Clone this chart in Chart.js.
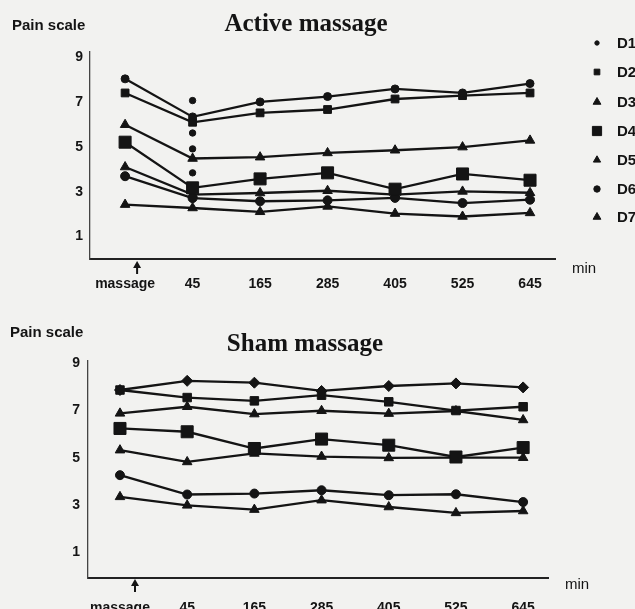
<!DOCTYPE html>
<html><head><meta charset="utf-8">
<script src="https://cdn.jsdelivr.net/npm/chart.js@4/dist/chart.umd.min.js"></script>
<style>
html,body{margin:0;padding:0;background:#f2f2f0;}
#wrap{position:relative;width:635px;height:609px;overflow:hidden;background:#f2f2f0;}
canvas{position:absolute;left:0;}
</style></head><body>
<div id="wrap">
<canvas id="topChart" width="635" height="300" style="top:0px"></canvas>
<canvas id="botChart" width="635" height="309" style="top:300px"></canvas>
</div>
<script>
// ---- data ----
const timeLabels = ['massage', '45', '165', '285', '405', '525', '645'];
const yTickValues = [1, 3, 5, 7, 9];
const seriesNames = ['D1', 'D2', 'D3', 'D4', 'D5', 'D6', 'D7'];

const activeD1 = [8.05, 6.35, 7.02, 7.26, 7.60, 7.42, 7.84];
const activeD2 = [7.42, 6.11, 6.53, 6.68, 7.15, 7.30, 7.42];
const activeD3 = [6.00, 4.49, 4.55, 4.74, 4.86, 5.00, 5.30];
const activeD4 = [5.22, 3.18, 3.58, 3.85, 3.12, 3.80, 3.52];
const activeD5 = [4.11, 2.88, 2.95, 3.05, 2.88, 3.02, 2.96];
const activeD6 = [3.70, 2.72, 2.58, 2.62, 2.73, 2.50, 2.65];
const activeD7 = [2.43, 2.28, 2.11, 2.35, 2.03, 1.90, 2.06];
const activeExtraDots45 = [7.08, 5.63, 4.92, 3.85];

const shamD1 = [7.87, 8.26, 8.18, 7.83, 8.04, 8.15, 7.98];
const shamD2 = [7.87, 7.55, 7.41, 7.65, 7.37, 7.00, 7.16];
const shamD3 = [6.88, 7.16, 6.85, 6.99, 6.87, 6.98, 6.60];
const shamD4 = [6.24, 6.10, 5.39, 5.79, 5.53, 5.03, 5.43];
const shamD5 = [5.32, 4.82, 5.18, 5.05, 4.99, 5.00, 5.00];
const shamD6 = [4.26, 3.44, 3.48, 3.62, 3.41, 3.45, 3.12];
const shamD7 = [3.34, 2.98, 2.80, 3.20, 2.91, 2.66, 2.74];

const activeSeries = [activeD1, activeD2, activeD3, activeD4, activeD5, activeD6, activeD7];
const shamSeries = [shamD1, shamD2, shamD3, shamD4, shamD5, shamD6, shamD7];

// ---- styles ----
const INK = '#141414';
const topMarkers = [
  {ps: 'circle', r: 4, lr: 2.2},
  {ps: 'rect', r: 5.5, lr: 4},
  {ps: 'triangle', r: 5.5, lr: 4.5},
  {ps: 'rect', r: 8.5, lr: 6.5},
  {ps: 'triangle', r: 5.5, lr: 4.2},
  {ps: 'circle', r: 4.5, lr: 3.2},
  {ps: 'triangle', r: 5.5, lr: 4.5}
];
const botMarkers = [
  {ps: 'rectRot', r: 5.5},
  {ps: 'rect', r: 6},
  {ps: 'triangle', r: 5.5},
  {ps: 'rect', r: 8.5},
  {ps: 'triangle', r: 5.5},
  {ps: 'circle', r: 4.5},
  {ps: 'triangle', r: 5.5}
];

Chart.defaults.font.family = '"Liberation Sans", Arial, sans-serif';
Chart.defaults.color = INK;

const deco = {
  id: 'deco',
  afterDraw(chart, args, o) {
    const ctx = chart.ctx;
    ctx.save();
    ctx.fillStyle = INK;
    ctx.textBaseline = 'alphabetic';
    ctx.font = 'bold 15px "Liberation Sans", Arial, sans-serif';
    ctx.textAlign = 'left';
    ctx.fillText('Pain scale', o.painX, o.painY);
    ctx.font = 'bold 25px "Liberation Serif", "Times New Roman", serif';
    ctx.textAlign = 'center';
    ctx.fillText(o.title, o.titleX, o.titleY);
    ctx.font = '15px "Liberation Sans", Arial, sans-serif';
    ctx.textAlign = 'left';
    ctx.fillText('min', o.minX, o.minY);
    // arrow under "massage"
    const ax = chart.scales.x.getPixelForValue(0) + o.arrowDx;
    const y0 = chart.chartArea.bottom + o.arrowDy;
    ctx.strokeStyle = INK; ctx.lineWidth = 2;
    ctx.beginPath(); ctx.moveTo(ax, y0 + 4); ctx.lineTo(ax, y0 + 13); ctx.stroke();
    ctx.beginPath(); ctx.moveTo(ax, y0); ctx.lineTo(ax - 4, y0 + 7); ctx.lineTo(ax + 4, y0 + 7); ctx.closePath(); ctx.fill();
    // legend
    if (o.legend) {
      ctx.font = 'bold 15px "Liberation Sans", Arial, sans-serif';
      ctx.textAlign = 'left';
      ctx.textBaseline = 'middle';
      chart.data.datasets.forEach((ds, i) => {
        if (!ds.legendRadius) return;
        const y = o.legendRows[i];
        ctx.fillStyle = INK; ctx.strokeStyle = INK; ctx.lineWidth = 1;
        Chart.helpers.drawPoint(ctx, {pointStyle: ds.pointStyle, radius: ds.legendRadius, rotation: 0, borderWidth: 1}, o.legendX, y);
        ctx.fillText(ds.label, o.legendTextX, y + 1);
      });
    }
    ctx.restore();
  }
};

function makeDatasets(series, markers, withLegend) {
  return series.map((arr, i) => ({
    label: seriesNames[i],
    data: arr.map((v, k) => ({x: k, y: v})),
    borderColor: INK,
    backgroundColor: INK,
    borderWidth: 2.3,
    pointStyle: markers[i].ps,
    pointRadius: markers[i].r,
    pointBackgroundColor: INK,
    pointBorderColor: INK,
    pointBorderWidth: 1,
    legendRadius: withLegend ? markers[i].lr : 0,
    tension: 0,
    clip: false
  }));
}

function makeOptions(p) {
  return {
    responsive: false,
    animation: false,
    events: [],
    layout: {padding: {left: 0, right: p.padRight, top: p.padTop, bottom: 0}},
    plugins: {
      legend: {display: false},
      tooltip: {enabled: false},
      deco: p.deco
    },
    scales: {
      x: {
        type: 'linear',
        min: p.xMin, max: p.xMax,
        grid: {display: false, drawTicks: false},
        border: {display: true, color: '#222', width: 2},
        afterBuildTicks: s => { s.ticks = timeLabels.map((_, i) => ({value: i})); },
        afterFit: s => { s.height = p.xHeight; },
        ticks: {
          autoSkip: false, maxRotation: 0, padding: p.xPad, color: INK,
          font: {size: 14, weight: 'bold'},
          callback: v => timeLabels[v]
        }
      },
      y: {
        min: p.yMin, max: p.yMax,
        grid: {display: false, drawTicks: false},
        border: {display: true, color: '#444', width: 1.3},
        afterBuildTicks: s => { s.ticks = yTickValues.map(v => ({value: v})); },
        afterFit: s => { s.width = p.yWidth; },
        ticks: {padding: p.yPad, color: INK, font: {size: 14, weight: 'bold'}}
      }
    }
  };
}

const topDatasets = makeDatasets(activeSeries, topMarkers, true);
topDatasets.push({
  label: '',
  data: activeExtraDots45.map(v => ({x: 1, y: v})),
  showLine: false,
  pointStyle: 'circle',
  pointRadius: 3.2,
  pointBackgroundColor: INK,
  pointBorderColor: INK,
  borderColor: INK,
  legendRadius: 0,
  clip: false
});

new Chart(document.getElementById('topChart'), {
  type: 'line',
  data: {datasets: topDatasets},
  options: makeOptions({
    padRight: 80, padTop: 52, xMin: -0.52, xMax: 6.37, xHeight: 41, xPad: 17,
    yMin: 0, yMax: 9.25, yWidth: 90, yPad: 7,
    deco: {
      painX: 12, painY: 30, title: 'Active massage', titleX: 306, titleY: 31,
      minX: 572, minY: 273, arrowDx: 12, arrowDy: 2,
      legend: true, legendX: 597, legendTextX: 617,
      legendRows: [43, 72, 102, 131, 160, 189, 217]
    }
  }),
  plugins: [deco]
});

new Chart(document.getElementById('botChart'), {
  type: 'line',
  data: {datasets: makeDatasets(shamSeries, botMarkers, false)},
  options: makeOptions({
    padRight: 87, padTop: 61, xMin: -0.476, xMax: 6.37, xHeight: 31, xPad: 22,
    yMin: -0.1, yMax: 9.1, yWidth: 88, yPad: 8,
    deco: {
      painX: 10, painY: 37, title: 'Sham massage', titleX: 305, titleY: 51,
      minX: 565, minY: 289, arrowDx: 15, arrowDy: 1,
      legend: false
    }
  }),
  plugins: [deco]
});
</script>
</body></html>
